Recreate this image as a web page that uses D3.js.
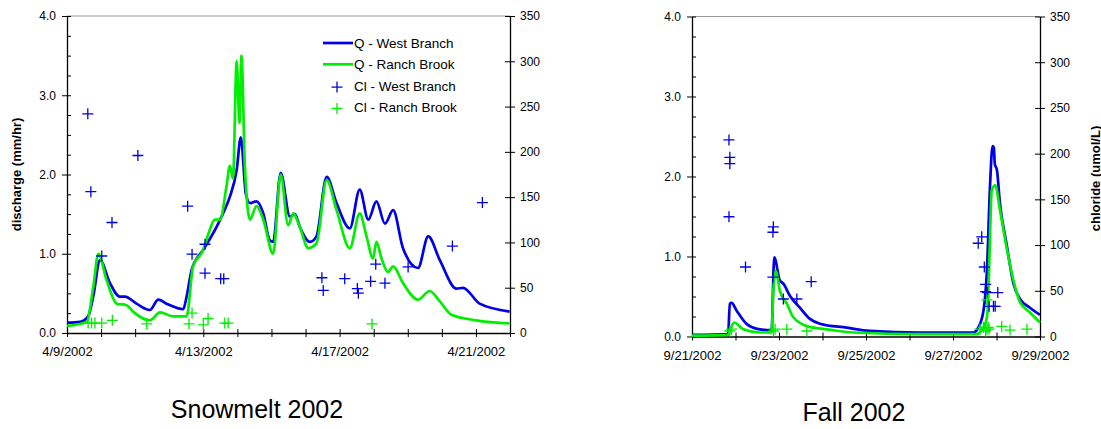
<!DOCTYPE html>
<html>
<head>
<meta charset="utf-8">
<script src="https://cdn.jsdelivr.net/npm/d3@7"></script>
<style>
  body { margin: 0; background: #fff; }
  svg { font-family: Arial, "Liberation Sans", sans-serif; }
</style>
</head>
<body>
<svg id="chart" width="1101" height="429"></svg>
<script>
// ---- data: [days since start, value] ----
// snowmelt 2002, start 4/9/2002
const snowQWest = [[0,0.13],[0.38,0.14],[0.62,0.21],[0.77,0.46],[0.97,0.92],[1.26,0.63],[1.55,0.46],[1.7,0.46],
  [2.04,0.37],[2.43,0.29],[2.68,0.42],[2.92,0.37],[3.41,0.3],[3.51,0.46],[3.66,0.8],[4.0,1.05],[4.39,1.34],
  [4.58,1.51],[4.78,1.72],[4.98,2.06],[5.1,2.47],[5.25,1.75],[5.37,1.64],[5.56,1.66],[5.76,1.51],[5.95,1.17],
  [6.05,1.15],[6.27,2.02],[6.54,1.47],[6.69,1.5],[6.83,1.34],[7.13,1.15],[7.32,1.22],[7.62,1.97],[7.91,1.64],
  [8.3,1.32],[8.59,1.81],[8.84,1.43],[9.08,1.66],[9.33,1.38],[9.57,1.55],[9.86,1.07],[10.3,0.82],[10.6,1.22],
  [10.94,0.92],[11.43,0.56],[11.62,0.57],[12.11,0.37],[12.99,0.27]];
const snowQRanch = [[0,0.09],[0.58,0.14],[0.77,0.58],[0.92,1.0],[1.16,0.67],[1.46,0.37],[1.75,0.35],[1.94,0.27],
  [2.43,0.16],[2.73,0.26],[3.12,0.21],[3.51,0.21],[3.7,0.84],[4.0,1.05],[4.14,1.24],[4.34,1.43],[4.49,1.43],
  [4.68,1.85],[4.78,2.11],[4.87,1.95],[4.98,3.43],[5.06,2.65],[5.12,3.5],[5.22,2.1],[5.37,1.43],[5.56,1.6],
  [5.76,1.43],[6.05,1.0],[6.27,2.0],[6.49,1.36],[6.64,1.51],[6.83,1.34],[7.08,1.07],[7.32,1.13],[7.62,1.93],
  [7.91,1.55],[8.3,1.07],[8.59,1.51],[8.79,1.22],[8.98,0.94],[9.08,1.15],[9.23,0.94],[9.42,0.77],[9.57,0.84],
  [9.86,0.63],[10.3,0.42],[10.64,0.53],[10.94,0.4],[11.28,0.23],[12.01,0.16],[12.99,0.12]];
const snowClWest = [[0.61,242],[0.7,156],[1.02,85],[1.32,122],[2.08,196],[3.54,140],[3.67,87],[4.05,98],[4.05,66],
  [4.51,60],[4.6,60],[7.48,61],[7.52,47],[8.15,60],[8.52,49],[8.55,44],[8.91,57],[9.06,76],[9.33,55],
  [10.01,73],[11.31,96],[12.19,144]];
const snowClRanch = [[0.62,11],[0.72,11],[0.82,11],[1.02,11],[1.33,14],[2.34,10],[3.58,10],[3.67,22],[4.0,9],
  [4.14,16],[4.63,11],[4.73,11],[8.95,10]];

// fall 2002, start 9/21/2002
const fallQWest = [[0,0.02],[0.83,0.03],[0.87,0.41],[0.91,0.42],[1.03,0.32],[1.26,0.155],[1.56,0.09],[1.83,0.08],
  [1.89,0.99],[2.02,0.7],[2.1,0.66],[2.25,0.51],[2.48,0.36],[2.71,0.22],[2.94,0.16],[3.56,0.11],[4.09,0.07],
  [5.24,0.05],[6.47,0.05],[6.58,0.11],[6.7,0.32],[6.78,0.82],[6.85,1.87],[6.91,2.38],[6.94,2.36],[6.96,2.16],
  [7.01,2.08],[7.08,1.66],[7.23,1.16],[7.39,0.66],[7.54,0.47],[7.77,0.36],[8.0,0.27]];
const fallQRanch = [[0,0.01],[0.83,0.02],[0.87,0.07],[0.97,0.175],[1.18,0.09],[1.56,0.05],[1.83,0.05],[1.87,0.57],
  [1.93,0.82],[2.02,0.57],[2.18,0.41],[2.33,0.24],[2.64,0.13],[3.1,0.09],[3.71,0.05],[5.24,0.03],[6.54,0.03],
  [6.7,0.11],[6.78,0.24],[6.81,0.49],[6.85,1.24],[6.89,1.83],[6.97,1.89],[7.08,1.58],[7.23,1.12],[7.39,0.7],
  [7.54,0.43],[7.77,0.3],[8.0,0.175]];
const fallClWest = [[0.85,215],[0.87,196],[0.87,189],[0.85,131],[1.23,76],[1.87,120],[1.86,114],[1.86,65],
  [2.1,41],[2.41,41],[2.74,60],[6.58,102],[6.66,109],[6.72,76],[6.75,57],[6.75,49],[6.79,48],[6.83,33],
  [6.93,33],[6.97,33],[7.03,48]];
const fallClRanch = [[0.87,6],[0.91,8],[1.87,6],[1.91,8],[2.18,8],[2.64,6],[6.62,8],[6.7,10],[6.75,6],[6.78,8],
  [6.81,10],[6.83,8],[6.78,40],[7.12,11],[7.31,7],[7.7,8]];

const qTicks = [0, 1, 2, 3, 4];
const clTicks = [0, 50, 100, 150, 200, 250, 300, 350];
const legendLabels = ["Q - West Branch", "Q - Ranch Brook", "Cl - West Branch", "Cl - Ranch Brook"];

const blue = "#0000e6", green = "#00ee00";
const svg = d3.select("#chart");
const fmtDate = d3.utcFormat("%-m/%-d/%Y");

function panel(o) {
  const g = svg.append("g");
  const start = new Date(o.start), end = d3.utcDay.offset(start, o.days);
  const x = d3.scaleUtc().domain([start, end]).range([o.left, o.right]);
  const yQ = d3.scaleLinear().domain([0, 4]).range([o.bottom, o.top]);
  const yC = d3.scaleLinear().domain([0, 350]).range([o.bottom, o.top]);
  const t = d => new Date(start.getTime() + d * 864e5);

  // top frame
  g.append("line").attr("x1", o.left).attr("x2", o.right).attr("y1", o.top).attr("y2", o.top)
    .attr("stroke", "#999").attr("stroke-width", 1);

  // left axis, minor ticks inside
  const minor = d3.range(0, 4.001, 0.25).filter(v => v % 1 !== 0);
  g.append("g").attr("transform", `translate(${o.left},0)`)
    .call(d3.axisLeft(yQ).tickValues(minor).tickSize(-4).tickFormat(""))
    .call(a => a.select(".domain").remove());
  const la = g.append("g").attr("transform", `translate(${o.left},0)`)
    .call(d3.axisLeft(yQ).tickValues(qTicks).tickSizeOuter(0).tickSizeInner(5).tickPadding(6).tickFormat(d3.format(".1f")));
  la.selectAll(".tick line").attr("x2", 4).attr("x1", -5);

  // right axis
  const ra = g.append("g").attr("transform", `translate(${o.right},0)`)
    .call(d3.axisRight(yC).tickValues(clTicks).tickSizeOuter(0).tickSizeInner(5).tickPadding(5));
  ra.selectAll(".tick line").attr("x1", -5).attr("x2", 5);

  // bottom axis
  const days = d3.utcDay.range(start, d3.utcDay.offset(end, 1));
  const ba = g.append("g").attr("transform", `translate(0,${o.bottom})`)
    .call(d3.axisBottom(x).tickValues(days).tickSizeOuter(0).tickSizeInner(4).tickPadding(10)
      .tickFormat((d, i) => i % o.labelEvery === 0 ? fmtDate(d) : ""));
  ba.selectAll(".tick line").attr("y1", -4).attr("y2", 4);

  [la, ra, ba].forEach(a => {
    a.select(".domain").attr("stroke", "#000").attr("stroke-width", 1.3);
    a.selectAll(".tick line").attr("stroke", "#000");
    a.selectAll(".tick text").attr("font-size", 12).attr("font-family", "Arial, 'Liberation Sans', sans-serif")
      .attr("fill", "#000");
  });
  ba.selectAll(".tick text").attr("font-size", 13);

  // lines
  const line = d3.line().x(d => x(t(d[0]))).curve(d3.curveMonotoneX);
  g.append("path").attr("d", line.y(d => yQ(d[1]))(o.qWest))
    .attr("fill", "none").attr("stroke", blue).attr("stroke-width", 2.7).attr("stroke-linejoin", "round");
  g.append("path").attr("d", line.y(d => yQ(d[1]))(o.qRanch))
    .attr("fill", "none").attr("stroke", green).attr("stroke-width", 2.7).attr("stroke-linejoin", "round");

  // chloride markers
  const plus = "M-5.5,0H5.5M0,-5.5V5.5";
  g.append("g").selectAll("path").data(o.clWest).join("path")
    .attr("transform", d => `translate(${x(t(d[0]))},${yC(d[1])})`)
    .attr("d", plus).attr("stroke", blue).attr("stroke-width", 1.3);
  g.append("g").selectAll("path").data(o.clRanch).join("path")
    .attr("transform", d => `translate(${x(t(d[0]))},${yC(d[1])})`)
    .attr("d", plus).attr("stroke", green).attr("stroke-width", 1.3);

  // axis titles
  if (o.yLeftTitle) {
    g.append("text").attr("transform", `translate(${o.left - 46},${(o.top + o.bottom) / 2}) rotate(-90)`)
      .attr("text-anchor", "middle").attr("font-size", 13).attr("font-weight", "bold").text(o.yLeftTitle);
  }
  if (o.yRightTitle) {
    g.append("text").attr("transform", `translate(${o.right + 59.5},${(o.top + o.bottom) / 2 + 2}) rotate(-90)`)
      .attr("text-anchor", "middle").attr("font-size", 13).attr("font-weight", "bold").text(o.yRightTitle);
  }

  // panel title
  g.append("text").attr("x", o.titleX).attr("y", o.titleY).attr("text-anchor", "middle")
    .attr("font-size", 25).text(o.title);

  // legend
  if (o.legend) {
    const lx = 323, ly = 43, dy = 21.3;
    const lg = g.append("g").attr("font-size", 13.5);
    [blue, green].forEach((c, i) => {
      lg.append("line").attr("x1", lx).attr("x2", lx + 30).attr("y1", ly + i * dy).attr("y2", ly + i * dy)
        .attr("stroke", c).attr("stroke-width", 2.7);
    });
    [blue, green].forEach((c, i) => {
      lg.append("path").attr("transform", `translate(${lx + 14},${ly + (i + 2) * dy + 1.5})`)
        .attr("d", plus).attr("stroke", c).attr("stroke-width", 1.3);
    });
    legendLabels.forEach((s, i) => {
      lg.append("text").attr("x", lx + 31).attr("y", ly + i * dy + 5).text(s);
    });
  }
}

panel({
  start: Date.UTC(2002, 3, 9), days: 13, labelEvery: 4,
  left: 67, right: 510, top: 16, bottom: 333,
  qWest: snowQWest, qRanch: snowQRanch, clWest: snowClWest, clRanch: snowClRanch,
  yLeftTitle: "discharge (mm/hr)", title: "Snowmelt 2002", titleX: 257, titleY: 418, legend: true
});
panel({
  start: Date.UTC(2002, 8, 21), days: 8, labelEvery: 2,
  left: 692, right: 1040, top: 16.5, bottom: 336.5,
  qWest: fallQWest, qRanch: fallQRanch, clWest: fallClWest, clRanch: fallClRanch,
  yRightTitle: "chloride (umol/L)", title: "Fall 2002", titleX: 854, titleY: 421, legend: false
});
</script>
</body>
</html>
